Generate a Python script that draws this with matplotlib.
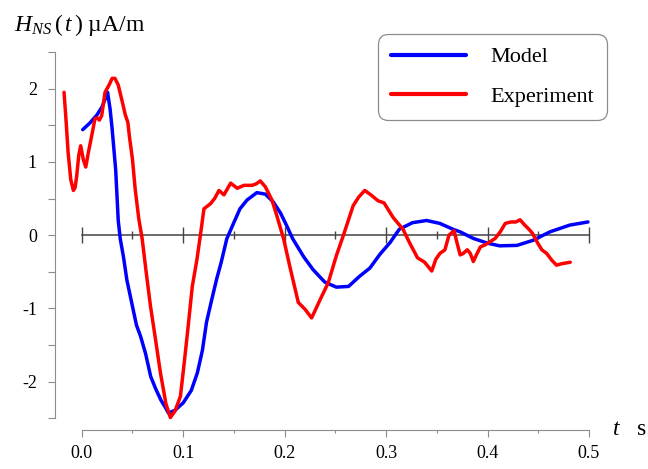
import numpy as np
import matplotlib
matplotlib.use('Agg')
import matplotlib.pyplot as plt
from matplotlib.ticker import MultipleLocator, NullFormatter

# =============================================================================
# Data
# =============================================================================
model_t = [0.001, 0.008, 0.015, 0.020, 0.0235, 0.0255, 0.028, 0.030, 0.0335, 0.036,
           0.038, 0.0412, 0.0445, 0.050, 0.054, 0.058, 0.063, 0.068, 0.073, 0.078,
           0.0828, 0.0855, 0.092, 0.100, 0.108, 0.114, 0.119, 0.123, 0.128, 0.133,
           0.1375, 0.143, 0.1496, 0.156, 0.163, 0.1726, 0.181, 0.189, 0.196, 0.202,
           0.208, 0.219, 0.228, 0.2395, 0.251, 0.263, 0.274, 0.284, 0.294, 0.304,
           0.313, 0.326, 0.340, 0.353, 0.366, 0.373, 0.386, 0.400, 0.412, 0.429,
           0.445, 0.4615, 0.481, 0.499]
model_h = [1.44, 1.53, 1.64, 1.75, 1.87, 1.95, 1.72, 1.45, 0.89, 0.20,
           -0.05, -0.30, -0.61, -0.97, -1.23, -1.38, -1.62, -1.93, -2.10, -2.25,
           -2.36, -2.43, -2.39, -2.29, -2.12, -1.88, -1.57, -1.19, -0.89, -0.60,
           -0.37, -0.05, 0.16, 0.36, 0.48, 0.58, 0.56, 0.45, 0.30, 0.13,
           -0.05, -0.30, -0.47, -0.64, -0.71, -0.70, -0.56, -0.45, -0.26, -0.10,
           0.08, 0.17, 0.20, 0.16, 0.08, 0.045, -0.045, -0.11, -0.146, -0.14,
           -0.07, 0.045, 0.137, 0.18]

exp_t = [-0.0174, -0.0153, -0.0134, -0.0108, -0.0082, -0.0065, -0.0049, -0.0029, -0.001, 0.0016,
         0.0040, 0.0066, 0.0099, 0.0131, 0.0154, 0.0174, 0.0197, 0.023, 0.027, 0.030,
         0.0328, 0.036, 0.040, 0.043, 0.0455, 0.047, 0.050, 0.0527, 0.0563, 0.0596,
         0.0635, 0.0678, 0.0725, 0.0776, 0.083, 0.0874, 0.092, 0.0973, 0.101, 0.1045,
         0.109, 0.1136, 0.117, 0.1205, 0.127, 0.131, 0.1353, 0.1402, 0.1468, 0.1533,
         0.160, 0.168, 0.172, 0.176, 0.181, 0.1875, 0.192, 0.199, 0.205, 0.2135,
         0.220, 0.2266, 0.231, 0.235, 0.243, 0.251, 0.258, 0.2675, 0.273, 0.279,
         0.285, 0.292, 0.298, 0.307, 0.3167, 0.323, 0.331, 0.338, 0.345, 0.349,
         0.353, 0.358, 0.362, 0.367, 0.370, 0.373, 0.376, 0.380, 0.383, 0.386,
         0.389, 0.393, 0.398, 0.4025, 0.4075, 0.4125, 0.4175, 0.423, 0.428, 0.432,
         0.4365, 0.4415, 0.4445, 0.4495, 0.4535, 0.4583, 0.4632, 0.468, 0.4732, 0.4815]
exp_h = [1.95, 1.54, 1.13, 0.76, 0.61, 0.65, 0.81, 1.09, 1.22, 1.03,
         0.93, 1.13, 1.36, 1.59, 1.60, 1.57, 1.63, 1.95, 2.05, 2.14,
         2.14, 2.05, 1.82, 1.64, 1.54, 1.35, 1.04, 0.63, 0.22, -0.05,
         -0.50, -0.97, -1.40, -1.88, -2.30, -2.49, -2.40, -2.20, -1.75, -1.30,
         -0.70, -0.33, 0.0, 0.36, 0.43, 0.50, 0.61, 0.55, 0.71, 0.64,
         0.68, 0.68, 0.70, 0.74, 0.66, 0.48, 0.28, -0.05, -0.42, -0.92,
         -1.01, -1.13, -1.00, -0.88, -0.65, -0.28, 0.0, 0.40, 0.52, 0.61,
         0.55, 0.47, 0.44, 0.24, 0.08, -0.10, -0.31, -0.37, -0.49, -0.33,
         -0.25, -0.20, 0.0, 0.06, -0.11, -0.27, -0.25, -0.20, -0.25, -0.36,
         -0.27, -0.16, -0.13, -0.09, -0.045, 0.045, 0.16, 0.18, 0.18, 0.21,
         0.14, 0.07, 0.02, -0.11, -0.20, -0.25, -0.34, -0.41, -0.39, -0.37]

x_ticks = [0.0, 0.1, 0.2, 0.3, 0.4, 0.5]
y_ticks = [-2, -1, 0, 1, 2]

# =============================================================================
# Figure
# =============================================================================
plt.rcParams['font.family'] = ['Liberation Serif', 'DejaVu Serif']
plt.rcParams['mathtext.fontset'] = 'custom'
plt.rcParams['mathtext.rm'] = 'Liberation Serif'
plt.rcParams['mathtext.it'] = 'Liberation Serif:italic'
plt.rcParams['axes.unicode_minus'] = False

W, H = 648, 469
fig = plt.figure(figsize=(W / 100, H / 100), dpi=100)

# axes box in pixels (from the reference)
px_left, px_right, px_top, px_bottom = 55, 589, 52, 430
ax = fig.add_axes([px_left / W, 1 - px_bottom / H,
                   (px_right - px_left) / W, (px_bottom - px_top) / H])

x_lo = -(81.7 - px_left) / ((px_right - 81.7) / 0.5)
ax.set_xlim(x_lo, 0.5)
ax.set_ylim(-2.66, 2.5)

ax.plot(model_t, model_h, color='#0000ff', lw=2.5, label='Model',
        solid_joinstyle='round', solid_capstyle='round', clip_on=False, zorder=3)
ax.plot(exp_t, exp_h, color='#ff0000', lw=2.5, label='Experiment',
        solid_joinstyle='round', solid_capstyle='round', clip_on=False, zorder=4)

# spines
grey = '#8c8c8c'
for s in ['top', 'right']:
    ax.spines[s].set_visible(False)
ax.spines['left'].set_color(grey)
ax.spines['bottom'].set_color(grey)
ax.spines['left'].set_bounds(-2.5, 2.5)
ax.spines['bottom'].set_bounds(0, 0.5)

ax.set_xticks(x_ticks)
ax.set_xticklabels(['%.1f' % v for v in x_ticks])
ax.xaxis.set_minor_locator(MultipleLocator(0.05))
ax.set_yticks(y_ticks)
ax.set_yticklabels([str(v) for v in y_ticks])
ax.yaxis.set_minor_locator(MultipleLocator(0.5))

ax.tick_params(axis='x', which='major', direction='out', length=5, width=0.8,
               color=grey, labelsize=13, pad=6)
ax.tick_params(axis='x', which='minor', direction='out', length=2.5, width=0.8,
               color=grey)
ax.tick_params(axis='y', which='both', direction='out', length=5, width=0.8,
               color=grey, labelsize=13, pad=8)

# zero line with cross ticks
y0 = (0 - ax.get_ylim()[0]) / (ax.get_ylim()[1] - ax.get_ylim()[0])
zax = ax.secondary_xaxis(y0)
zax.set_xticks(x_ticks)
zax.xaxis.set_minor_locator(MultipleLocator(0.05))
zax.xaxis.set_major_formatter(NullFormatter())
zax.tick_params(axis='x', which='major', direction='inout', length=11.5,
                width=1.0, color='#444444', labelbottom=False, labeltop=False)
zax.tick_params(axis='x', which='minor', direction='inout', length=5.8,
                width=1.0, color='#444444')
for s in zax.spines.values():
    s.set_color('#444444')
    s.set_linewidth(1.1)
    s.set_bounds(0, 0.5)

# legend
leg = ax.legend(loc='upper left', bbox_to_anchor=(378 / W, 1 - 34 / H),
                bbox_transform=fig.transFigure, fontsize=16, handlelength=3.4,
                handletextpad=1.08, borderpad=0.58, labelspacing=0.85,
                borderaxespad=0, frameon=True, fancybox=True, framealpha=1)
leg.get_frame().set_edgecolor(grey)
leg.get_frame().set_linewidth(0.9)
leg.get_frame().set_boxstyle('round,pad=0,rounding_size=0.45')
for line in leg.get_lines():
    line.set_linewidth(3)

# axis labels
fig.text(14 / W, 1 - 31 / H, r'$H_{NS}\,(\,t\,)$ µA/m', fontsize=17,
         ha='left', va='baseline')
fig.text(612 / W, 1 - 435 / H, r'$t$   s', fontsize=17, ha='left',
         va='baseline')

fig.savefig('out.png', dpi=100)
